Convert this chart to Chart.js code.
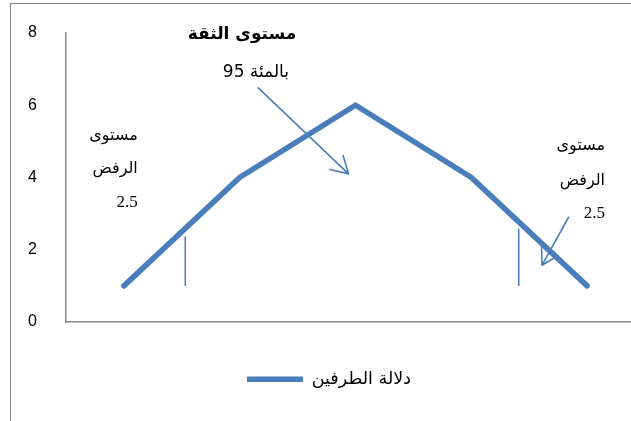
<!DOCTYPE html>
<html>
<head>
<meta charset="utf-8">
<script src="https://cdn.jsdelivr.net/npm/chart.js@4.4.0/dist/chart.umd.min.js"></script>
<style>
  html, body { margin: 0; padding: 0; background: #fff; overflow: hidden; }
  #frame { position: absolute; left: 10px; top: 3px; width: 636px; height: 440px; border: 1px solid #878787; }
</style>
</head>
<body>
<div id="frame"><canvas id="chartCanvas" width="636" height="440"></canvas></div>
<script>
const categories = ['1', '2', '3', '4', '5'];
const seriesValues = [1, 4, 6, 4, 1];
const yTicks = [0, 2, 4, 6, 8];
const seriesLabel = 'دلالة الطرفين';

// rejection region markers, in category index / value units
const markerX = [0.53, 3.41];
const markerTop = [2.37, 2.59];
const markerBottom = [1, 1];

// arrows: start and tip, in category index / value units
const arrowFrom = [[1.16, 6.48], [3.84, 2.9]];
const arrowTo = [[1.94, 4.1], [3.61, 1.57]];

// text notes
const noteTexts = ['مستوى الثقة', 'بالمئة 95', 'مستوى', 'الرفض', '2.5', 'مستوى', 'الرفض', '2.5'];
const noteX = [1.02, 1.14, 0.12, 0.12, 0.12, 4.155, 4.155, 4.155];
const noteY = [7.97, 6.9, 5.16, 4.25, 3.32, 4.88, 3.92, 3.0];
const noteAlign = ['center', 'center', 'right', 'right', 'right', 'right', 'right', 'right'];
const noteBold = [true, false, false, false, false, false, false, false];

const blue = '#4a7ebb';

function drawArrow(ctx, x0, y0, x1, y1) {
  const ang = Math.atan2(y1 - y0, x1 - x0);
  const len = 19, spread = Math.PI / 6;
  ctx.beginPath();
  ctx.moveTo(x0, y0);
  ctx.lineTo(x1, y1);
  ctx.moveTo(x1 - len * Math.cos(ang - spread), y1 - len * Math.sin(ang - spread));
  ctx.lineTo(x1, y1);
  ctx.lineTo(x1 - len * Math.cos(ang + spread), y1 - len * Math.sin(ang + spread));
  ctx.stroke();
}

const notesPlugin = {
  id: 'notes',
  afterLayout(chart) {
    // legend sits a little left of the canvas centre
    chart.legend.left -= 7.5;
    chart.legend.right -= 7.5;
  },
  beforeDatasetsDraw(chart) {
    const { ctx, scales: { x, y } } = chart;
    ctx.save();
    ctx.strokeStyle = blue;
    ctx.lineWidth = 1.5;
    markerX.forEach((v, i) => {
      const px = x.getPixelForValue(v);
      ctx.beginPath();
      ctx.moveTo(px, y.getPixelForValue(markerBottom[i]));
      ctx.lineTo(px, y.getPixelForValue(markerTop[i]));
      ctx.stroke();
    });
    ctx.restore();
  },
  afterDatasetsDraw(chart) {
    const { ctx, scales: { x, y } } = chart;
    ctx.save();
    ctx.strokeStyle = blue;
    ctx.lineWidth = 1.6;
    ctx.lineCap = 'round';
    ctx.lineJoin = 'round';
    arrowFrom.forEach((p, i) => {
      const q = arrowTo[i];
      drawArrow(ctx, x.getPixelForValue(p[0]), y.getPixelForValue(p[1]),
        x.getPixelForValue(q[0]), y.getPixelForValue(q[1]));
    });

    ctx.fillStyle = '#000';
    ctx.textBaseline = 'middle';
    ctx.direction = 'rtl';
    noteTexts.forEach((t, i) => {
      const isNum = /^[0-9.]+$/.test(t);
      ctx.font = (noteBold[i] ? 'bold ' : '') +
        (isNum ? '17px "Liberation Serif"' : (i < 2 ? '17px "DejaVu Sans"' : '16px "DejaVu Sans"'));
      ctx.textAlign = noteAlign[i];
      ctx.fillText(t, x.getPixelForValue(noteX[i]), y.getPixelForValue(noteY[i]));
    });
    ctx.restore();
  }
};

const ctx = document.getElementById('chartCanvas').getContext('2d');
new Chart(ctx, {
  type: 'line',
  data: {
    labels: categories,
    datasets: [{
      label: seriesLabel,
      data: seriesValues,
      borderColor: blue,
      backgroundColor: blue,
      borderWidth: 5.5,
      borderCapStyle: 'round',
      borderJoinStyle: 'miter',
      pointRadius: 0,
      tension: 0
    }]
  },
  options: {
    responsive: false,
    animation: false,
    layout: { padding: { top: 29, right: 2, bottom: 46, left: 17 } },
    scales: {
      x: {
        offset: true,
        grid: { display: false, drawTicks: false },
        border: { display: true, color: '#878787', width: 1.5 },
        ticks: { display: false },
        afterFit: s => { s.height = 38.5; }
      },
      y: {
        min: 0,
        max: 8,
        afterBuildTicks: s => { s.ticks = yTicks.map(v => ({ value: v })); },
        grid: { display: false, drawTicks: false },
        border: { display: true, color: '#878787', width: 1.5 },
        ticks: {
          padding: 4,
          crossAlign: 'far',
          color: '#000',
          font: { family: '"Liberation Sans"', size: 16 }
        },
        afterFit: s => { s.width = 38; }
      }
    },
    plugins: {
      legend: {
        position: 'bottom',
        labels: {
          usePointStyle: true,
          pointStyle: 'line',
          pointStyleWidth: 56,
          boxHeight: 17,
          padding: 10,
          color: '#000',
          font: { family: '"DejaVu Sans"', size: 17.5 }
        }
      },
      tooltip: { enabled: false }
    }
  },
  plugins: [notesPlugin]
});
</script>
</body>
</html>
